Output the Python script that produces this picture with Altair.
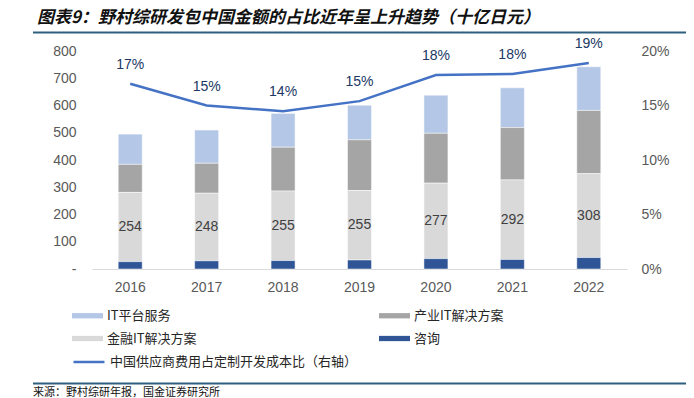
import altair as alt
import pandas as pd

years = ["2016", "2017", "2018", "2019", "2020", "2021", "2022"]
consulting = [27, 30, 31, 33, 38, 35, 42]
finance = [254, 248, 255, 255, 277, 292, 308]
industry = [103, 110, 161, 186, 183, 192, 232]
platform = [111, 122, 124, 127, 140, 146, 160]
ratio = [0.170, 0.150, 0.1448, 0.154, 0.178, 0.179, 0.189]

series_names = ["IT平台服务", "产业IT解决方案", "金融IT解决方案", "咨询"]
series_colors = ["#b4c7e7", "#a5a5a5", "#d9d9d9", "#2f5597"]
stack_order = {"咨询": 0, "金融IT解决方案": 1, "产业IT解决方案": 2, "IT平台服务": 3}
line_name = "中国供应商费用占定制开发成本比（右轴）"

title_text = "图表9：野村综研发包中国金额的占比近年呈上升趋势（十亿日元）"
source_text = "来源：野村综研年报，国金证券研究所"

rows = []
for i, y in enumerate(years):
    for name, vals in zip(series_names, [platform, industry, finance, consulting]):
        rows.append({"year": y, "series": name, "value": vals[i], "order": stack_order[name]})
bars_df = pd.DataFrame(rows)
fin_df = pd.DataFrame({"year": years, "finance": finance,
                       "mid": [c + f / 2 for c, f in zip(consulting, finance)]})
line_df = pd.DataFrame({"year": years, "ratio": ratio, "name": line_name})

xscale = alt.Scale(paddingInner=0.686, paddingOuter=0.343)
xaxis = alt.Axis(title=None, labelAngle=0, ticks=False, labelPadding=11,
                 domainColor="#d9d9d9", domainWidth=1, grid=False,
                 labelFont="Liberation Sans", labelFontSize=14, labelColor="#595959")
yscale = alt.Scale(domain=[0, 800], nice=False)
left_axis = alt.Axis(title=None, values=list(range(0, 801, 100)), domain=False,
                     ticks=False, grid=False, labelPadding=16, labelOverlap=False,
                     labelFont="Liberation Sans", labelFontSize=14, labelColor="#595959",
                     labelExpr="datum.value == 0 ? '-\u00a0\u00a0\u00a0' : datum.label")
rscale = alt.Scale(domain=[0, 0.2], nice=False)
right_axis = alt.Axis(title=None, orient="right", format=".0%",
                      values=[0, 0.05, 0.1, 0.15, 0.2], domain=False, ticks=False,
                      grid=False, labelPadding=14, labelOverlap=False,
                      labelFont="Liberation Sans", labelFontSize=14, labelColor="#595959")

bars = alt.Chart(bars_df).mark_bar(stroke="white", strokeWidth=0.5).encode(
    x=alt.X("year:N", scale=xscale, axis=xaxis),
    y=alt.Y("value:Q", stack="zero", scale=yscale, axis=left_axis),
    color=alt.Color("series:N",
                    scale=alt.Scale(domain=series_names, range=series_colors),
                    legend=alt.Legend(title=None, orient="none", legendX=-20, legendY=249,
                                      direction="horizontal",
                                      columns=2, columnPadding=182, rowPadding=0,
                                      symbolType="M-1,-0.17H1V0.17H-1Z", symbolSize=961,
                                      symbolStrokeWidth=0, labelOffset=4, labelLimit=400,
                                      labelFont="Noto Sans CJK SC", labelFontSize=13,
                                      labelColor="#262626")),
    order=alt.Order("order:Q", sort="ascending"),
)

fin_text = alt.Chart(fin_df).mark_text(font="Liberation Sans", fontSize=14,
                                        color="#404040", baseline="middle").encode(
    x=alt.X("year:N", scale=xscale, axis=xaxis),
    y=alt.Y("mid:Q", scale=yscale, axis=left_axis),
    text=alt.Text("finance:Q"),
)

bar_layer = alt.layer(bars, fin_text)

line = alt.Chart(line_df).mark_line(strokeWidth=2.5).encode(
    x=alt.X("year:N", scale=xscale, axis=xaxis),
    y=alt.Y("ratio:Q", scale=rscale, axis=right_axis),
    stroke=alt.Stroke("name:N", scale=alt.Scale(domain=[line_name], range=["#4472c4"]),
                      legend=alt.Legend(title=None, orient="none", legendX=-20, legendY=294,
                                        symbolType="stroke", symbolSize=961,
                                        symbolStrokeWidth=2.5, labelOffset=4, labelLimit=400,
                                        labelFont="Noto Sans CJK SC", labelFontSize=13,
                                        labelColor="#262626")),
)

line_text = alt.Chart(line_df).mark_text(font="Liberation Sans", fontSize=14,
                                         color="#203864", dy=-19, baseline="middle").encode(
    x=alt.X("year:N", scale=xscale, axis=xaxis),
    y=alt.Y("ratio:Q", scale=rscale, axis=right_axis),
    text=alt.Text("ratio:Q", format=".0%"),
)

line_layer = alt.layer(line, line_text)

one = alt.Data(values=[{"a": 1}])
title_mark = alt.Chart(one).mark_text(text=title_text, font="Noto Sans CJK SC", fontSize=17,
                                      fontWeight="bold", fontStyle="italic", color="#111111",
                                      align="left", baseline="middle").encode(
    x=alt.value(-55), y=alt.value(-33))
title_rule = alt.Chart(one).mark_rule(color="#2f5f7f", strokeWidth=2).encode(
    x=alt.value(-59), x2=alt.value(602), y=alt.value(-18.5))
source_rule = alt.Chart(one).mark_rule(color="#2f5f7f", strokeWidth=2).encode(
    x=alt.value(-59), x2=alt.value(602), y=alt.value(332.5))
source_mark = alt.Chart(one).mark_text(text=source_text, font="Noto Sans CJK SC", fontSize=11,
                                       color="#111111", align="left", baseline="middle").encode(
    x=alt.value(-59), y=alt.value(342))

chart = alt.layer(bar_layer, line_layer, title_mark, title_rule, source_rule, source_mark).resolve_scale(
    y="independent", color="independent"
).properties(
    width=535, height=218,
    padding={"left": 84, "top": 43, "right": 59, "bottom": 129},
    autosize=alt.AutoSizeParams(type="none"),
).configure_view(strokeWidth=0)

chart.save("out.html", embed_options={"renderer": "svg", "actions": False})
